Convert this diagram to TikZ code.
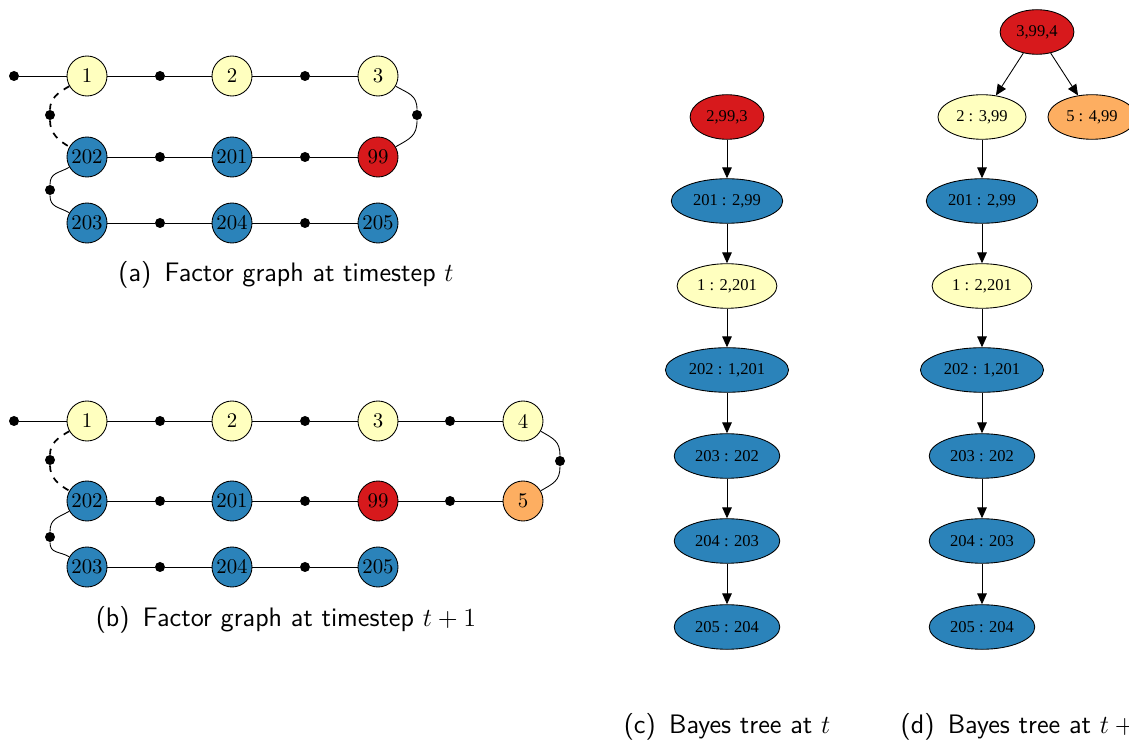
\documentclass[tikz,border=0pt]{standalone}
\usepackage{amsmath}
\usepackage{fontspec}
\newfontfamily\btfont{Liberation Serif}
\usepackage{xcolor}
\usetikzlibrary{arrows.meta,shapes.geometric}
\definecolor{spred}{HTML}{D7191C}
\definecolor{sporange}{HTML}{FDAE61}
\definecolor{spyellow}{HTML}{FFFFBF}
\definecolor{spblue}{HTML}{2B83BA}

\begin{document}
\begin{tikzpicture}[x=0.46pt,y=-0.46pt,
  var/.style={circle,draw,minimum size=18.4pt,inner sep=0pt,
    font=\fontsize{9.6}{11}\selectfont},
  fac/.style={circle,fill=black,minimum size=4.6pt,inner sep=0pt},
  bt/.style={ellipse,draw,minimum height=20.5pt,inner xsep=2.5pt,
    font=\btfont\fontsize{7.6}{8}\selectfont},
  tarr/.style={-{Triangle[length=5pt,width=4.4pt]}},
  captext/.style={font=\fontsize{12.3}{14}\selectfont\sffamily}]
  \useasboundingbox (0,0) rectangle (1129,740);
  \clip (0,0) rectangle (1129,740);
  %% Factor graph at t
  \node[var,fill=spyellow] (a1) at (87,76)  {1};
  \node[var,fill=spyellow] (a2) at (232,76) {2};
  \node[var,fill=spyellow] (a3) at (378,76) {3};
  \node[var,fill=spblue] (a202) at (87,157)  {202};
  \node[var,fill=spblue] (a201) at (232,157) {201};
  \node[var,fill=spred]  (a99)  at (378,157) {99};
  \node[var,fill=spblue] (a203) at (87,223)  {203};
  \node[var,fill=spblue] (a204) at (232,223) {204};
  \node[var,fill=spblue] (a205) at (378,223) {205};
  % factors
  \node[fac] (afp)  at (14,76)   {};
  \node[fac] (af12) at (160,76)  {};
  \node[fac] (af23) at (305,76)  {};
  \node[fac] (afl)  at (50,115)  {};
  \node[fac] (afr)  at (417,115) {};
  \node[fac] (afm1) at (160,157) {};
  \node[fac] (afm2) at (305,157) {};
  \node[fac] (afb)  at (50,190)  {};
  \node[fac] (afd1) at (160,223) {};
  \node[fac] (afd2) at (305,223) {};
  \draw (afp) -- (a1) -- (af12) -- (a2) -- (af23) -- (a3);
  \draw (a202) -- (afm1) -- (a201) -- (afm2) -- (a99);
  \draw (a203) -- (afd1) -- (a204) -- (afd2) -- (a205);
  \draw (a3) to[out=-30,in=90,looseness=1.2] (afr) to[out=-90,in=30,looseness=1.2] (a99);
  \draw[thick,dashed] (a1) to[out=210,in=90] (afl) to[out=-90,in=150] (a202);
  \draw (a202) to[out=210,in=90,looseness=1.2] (afb) to[out=-90,in=150,looseness=1.2] (a203);
  \node[captext] (capa) at (286,275) {(a)\enspace Factor graph at timestep $t$};

  %% Factor graph at t+1
  \node[var,fill=spyellow] (b1) at (87,421)  {1};
  \node[var,fill=spyellow] (b2) at (232,421) {2};
  \node[var,fill=spyellow] (b3) at (378,421) {3};
  \node[var,fill=spyellow] (b4) at (523,421) {4};
  \node[var,fill=spblue]   (b202) at (87,501)  {202};
  \node[var,fill=spblue]   (b201) at (232,501) {201};
  \node[var,fill=spred]    (b99)  at (378,501) {99};
  \node[var,fill=sporange] (b5)   at (523,501) {5};
  \node[var,fill=spblue] (b203) at (87,567)  {203};
  \node[var,fill=spblue] (b204) at (232,567) {204};
  \node[var,fill=spblue] (b205) at (378,567) {205};
  % factors
  \node[fac] (bfp)  at (14,421)  {};
  \node[fac] (bf12) at (160,421) {};
  \node[fac] (bf23) at (305,421) {};
  \node[fac] (bf34) at (450,421) {};
  \node[fac] (bfl)  at (50,460)  {};
  \node[fac] (bfr)  at (560,461) {};
  \node[fac] (bfm1) at (160,501) {};
  \node[fac] (bfm2) at (305,501) {};
  \node[fac] (bfm3) at (450,501) {};
  \node[fac] (bfb)  at (50,537)  {};
  \node[fac] (bfd1) at (160,567) {};
  \node[fac] (bfd2) at (305,567) {};
  \draw (bfp) -- (b1) -- (bf12) -- (b2) -- (bf23) -- (b3) -- (bf34) -- (b4);
  \draw (b202) -- (bfm1) -- (b201) -- (bfm2) -- (b99) -- (bfm3) -- (b5);
  \draw (b203) -- (bfd1) -- (b204) -- (bfd2) -- (b205);
  \draw (b4) to[out=-30,in=90,looseness=1.2] (bfr) to[out=-90,in=30,looseness=1.2] (b5);
  \draw[thick,dashed] (b1) to[out=210,in=90] (bfl) to[out=-90,in=150] (b202);
  \draw (b202) to[out=210,in=90,looseness=1.2] (bfb) to[out=-90,in=150,looseness=1.2] (b203);
  \node[captext] (capb) at (286,620) {(b)\enspace Factor graph at timestep $t+1$};

  %% Bayes tree at t
  \node[bt,fill=spred]    (c0) at (727,117) {2,99,3};
  \node[bt,fill=spblue]   (c1) at (727,201) {201 : 2,99};
  \node[bt,fill=spyellow] (c2) at (727,286) {1 : 2,201};
  \node[bt,fill=spblue]   (c3) at (727,370) {202 : 1,201};
  \node[bt,fill=spblue]   (c4) at (727,456) {203 : 202};
  \node[bt,fill=spblue]   (c5) at (727,541) {204 : 203};
  \node[bt,fill=spblue]   (c6) at (727,627) {205 : 204};
  \foreach \p/\q in {c0/c1,c1/c2,c2/c3,c3/c4,c4/c5,c5/c6}
    \draw[tarr] (\p) -- (\q);
  \node[captext] (capc) at (727,727) {(c)\enspace Bayes tree at $t$};

  %% Bayes tree at t+1
  \node[bt,fill=spred]    (d0) at (1037,32) {3,99,4};
  \node[bt,fill=spyellow] (d1) at (982,117) {2 : 3,99};
  \node[bt,fill=sporange] (d1r) at (1092,117) {5 : 4,99};
  \node[bt,fill=spblue]   (d2) at (982,201) {201 : 2,99};
  \node[bt,fill=spyellow] (d3) at (982,286) {1 : 2,201};
  \node[bt,fill=spblue]   (d4) at (982,370) {202 : 1,201};
  \node[bt,fill=spblue]   (d5) at (982,456) {203 : 202};
  \node[bt,fill=spblue]   (d6) at (982,541) {204 : 203};
  \node[bt,fill=spblue]   (d7) at (982,627) {205 : 204};
  \foreach \p/\q in {d0/d1,d0/d1r,d1/d2,d2/d3,d3/d4,d4/d5,d5/d6,d6/d7}
    \draw[tarr] (\p) -- (\q);
  \node[captext,anchor=west] (capd) at (893,727) {(d)\enspace Bayes tree at $t+1$};
\end{tikzpicture}
\end{document}
